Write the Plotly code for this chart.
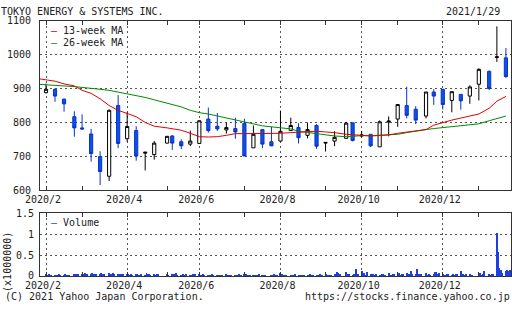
import pandas as pd
import plotly.graph_objects as go

# ---------------- data ----------------
weeks = ["2020-02-03", "2020-02-10", "2020-02-17", "2020-02-25", "2020-03-02", "2020-03-09",
         "2020-03-16", "2020-03-23", "2020-03-30", "2020-04-06", "2020-04-13", "2020-04-20",
         "2020-04-27", "2020-05-07", "2020-05-11", "2020-05-18", "2020-05-25", "2020-06-01",
         "2020-06-08", "2020-06-15", "2020-06-22", "2020-06-29", "2020-07-06", "2020-07-13",
         "2020-07-20", "2020-07-27", "2020-08-03", "2020-08-11", "2020-08-17", "2020-08-24",
         "2020-08-31", "2020-09-07", "2020-09-14", "2020-09-23", "2020-09-28", "2020-10-05",
         "2020-10-12", "2020-10-19", "2020-10-26", "2020-11-02", "2020-11-09", "2020-11-16",
         "2020-11-24", "2020-11-30", "2020-12-07", "2020-12-14", "2020-12-21", "2020-12-28",
         "2021-01-04", "2021-01-12", "2021-01-18", "2021-01-25"]
opens = [888, 898, 869, 817, 784, 766, 699, 641, 850, 752, 776, 709, 705, 739, 760, 743, 736, 738,
         810, 789, 778, 782, 797, 725, 779, 743, 745, 776, 785, 762, 791, 739, 745, 753, 799, 760,
         765, 728, 801, 810, 850, 839, 819, 890, 898, 865, 883, 878, 913, 951, 992, 991]
highs = [915, 900, 870, 833, 824, 781, 715, 838, 881, 830, 789, 713, 745, 760, 763, 750, 776, 806,
         844, 828, 800, 814, 811, 791, 779, 788, 835, 814, 798, 800, 795, 742, 774, 802, 799, 775,
         765, 806, 818, 853, 906, 848, 890, 898, 898, 891, 883, 910, 960, 954, 1084, 1020]
lows = [886, 861, 832, 758, 778, 684, 615, 627, 724, 743, 687, 658, 690, 738, 719, 721, 730, 737,
        770, 775, 767, 752, 701, 725, 724, 730, 744, 776, 738, 753, 722, 714, 730, 753, 744, 757,
        727, 728, 759, 787, 812, 795, 812, 852, 838, 830, 838, 855, 865, 896, 979, 931]
closes = [898, 878, 855, 784, 781, 708, 655, 836, 738, 788, 701, 712, 739, 759, 739, 731, 745, 805,
          776, 781, 785, 772, 701, 765, 736, 731, 774, 791, 755, 779, 730, 741, 756, 798, 747, 763,
          731, 802, 804, 853, 821, 807, 890, 878, 853, 891, 864, 905, 957, 900, 994, 936]

ma_dates = ["2020-01-27"] + weeks
ma13 = [930, 927, 922, 914, 908, 895, 886, 870, 850, 836, 827, 817, 800, 789, 784, 781, 777, 768,
        758, 757, 758, 762, 767, 767, 767, 766, 767, 768, 770, 771, 774, 774, 772, 770, 765, 763,
        762, 760, 762, 763, 768, 772, 775, 779, 792, 800, 807, 813, 820, 825, 842, 863, 877]
ma26 = [913, 912, 910, 908, 906, 903, 901, 898, 895, 890, 886, 879, 874, 867, 858, 853, 846, 836,
        829, 825, 819, 813, 806, 800, 796, 790, 787, 784, 781, 774, 770, 768, 763, 760, 758, 760,
        761, 761, 762, 763, 765, 770, 775, 779, 782, 785, 787, 790, 793, 796, 805, 812, 819]

# daily volume (thousands of shares), one list per week
vol_daily = [
    [25, 15, 30, 10, 15], [20, 10, 15, 25, 10], [15, 30, 20, 15, 10], [35, 25, 40, 30],
    [45, 25, 60, 20, 30], [50, 65, 30, 40, 55], [40, 75, 35, 50], [60, 45, 35, 70, 40],
    [55, 40, 30, 45, 35], [30, 25, 20, 35, 15], [25, 40, 20, 15, 30], [20, 60, 35, 25, 15],
    [30, 20, 55, 25], [40, 20], [35, 45, 25, 60, 20], [15, 25, 20, 10, 30],
    [20, 15, 35, 20, 25], [30, 20, 15, 25, 10], [15, 20, 10, 25, 15], [10, 20, 15, 10, 20],
    [25, 15, 10, 20, 15], [20, 10, 15, 35, 10], [45, 25, 15, 20, 10], [15, 20, 10, 15, 25],
    [20, 15, 10], [15, 20, 25, 10, 15], [75, 30, 20, 15, 10], [20, 15, 10, 25],
    [15, 10, 20, 15, 10], [20, 15, 25, 10, 15], [15, 20, 10, 30, 20], [25, 15, 10, 20, 15],
    [30, 20, 105, 75, 40], [90, 35, 25], [20, 30, 45, 170, 25], [115, 30, 75, 20, 90],
    [35, 20, 25, 15, 30], [20, 15, 25, 30, 20], [60, 20, 15, 25, 30], [35, 70, 20, 45, 25],
    [80, 30, 25, 120, 40], [30, 170, 45, 25, 35], [60, 20, 30, 15], [25, 90, 95, 40, 60],
    [30, 20, 15, 25, 40], [20, 35, 15, 25, 30], [110, 40, 30, 20, 25], [30, 20, 15],
    [45, 65, 20, 25, 110], [35, 20, 30, 25], [1020, 580, 190, 140, 60], [120, 150, 110, 150, 130],
]

major_ticks = ["2020-02-03", "2020-04-06", "2020-06-01", "2020-08-03", "2020-10-05", "2020-12-07"]
major_text = ["2020/2", "2020/4", "2020/6", "2020/8", "2020/10", "2020/12"]
minor_ticks = ["2020-03-02", "2020-05-07", "2020-07-06", "2020-09-07", "2020-11-02", "2021-01-04"]
price_ticks = [600, 700, 800, 900, 1000, 1100]
vol_ticks = [0, 0.5, 1, 1.5]
vol_text = ["0", "0.5", "1", "1.5"]

# expand daily volume to dates
vol_x, vol_y = [], []
for start, vals in zip(weeks, vol_daily):
    days = pd.bdate_range(start, periods=len(vals))
    vol_x += list(days)
    vol_y += [v / 1000 for v in vals]

# ---------------- figure ----------------
W, H = 512, 310
L, R = 40, 1
PW = W - L - R
def px_x(p):
    return (p - L) / PW
def px_y(p):
    return 1 - p / H

FONT = "DejaVu Sans Mono"
TXT = "#222222"
GRID = "#555555"
BORDER = "#333333"

fig = go.Figure()
fig.add_trace(go.Scatter(x=ma_dates, y=ma26, mode="lines", line=dict(color="#008a00", width=1),
                         xaxis="x", yaxis="y", hoverinfo="skip"))
fig.add_trace(go.Scatter(x=ma_dates, y=ma13, mode="lines", line=dict(color="#e00000", width=1),
                         xaxis="x", yaxis="y", hoverinfo="skip"))
fig.add_trace(go.Candlestick(
    x=weeks, open=opens, high=highs, low=lows, close=closes,
    increasing=dict(line=dict(color="#000000", width=1), fillcolor="#ffffff"),
    decreasing=dict(line=dict(color="#0a2fd0", width=1), fillcolor="#0a55e0"),
    whiskerwidth=0, xaxis="x", yaxis="y"))
fig.add_trace(go.Bar(x=vol_x, y=vol_y, marker=dict(color="#1a3fe8", line=dict(width=0)),
                     width=0.75 * 86400000, xaxis="x2", yaxis="y2"))

axis_font = dict(family=FONT, size=10, color=TXT)
xcommon = dict(
    type="date", range=["2020-01-29 08:00", "2021-01-28 23:00"],
    tickvals=major_ticks, ticktext=major_text, ticks="inside", ticklen=4, tickcolor=BORDER,
    minor=dict(tickvals=minor_ticks, ticks="inside", ticklen=4, tickcolor=BORDER, showgrid=False),
    showgrid=True, gridcolor=GRID, griddash="2px,3px", gridwidth=1,
    showline=True, linecolor=BORDER, linewidth=1, mirror="ticks",
    tickfont=axis_font, zeroline=False, fixedrange=True, ticklabelshift=-3,
)
fig.update_layout(
    width=W, height=H, margin=dict(l=L, r=R, t=0, b=0),
    paper_bgcolor="white", plot_bgcolor="white", showlegend=False,
    boxgap=0.12, bargap=0,
    xaxis=dict(domain=[0, 1], anchor="y", rangeslider=dict(visible=False), **xcommon),
    yaxis=dict(domain=[px_y(191.3), px_y(16.5)], range=[600, 1100], tickvals=price_ticks,
               showgrid=True, gridcolor=GRID, griddash="2px,3px", gridwidth=1,
               showline=True, linecolor=BORDER, linewidth=1, mirror=True,
               ticks="", tickfont=axis_font, zeroline=False, ticklabelstandoff=6),
    xaxis2=dict(domain=[0, 1], anchor="y2", matches="x", **xcommon),
    yaxis2=dict(domain=[px_y(280), px_y(215)], range=[0, 1.5], tickvals=vol_ticks, ticktext=vol_text,
                showgrid=True, gridcolor=GRID, griddash="2px,3px", gridwidth=1,
                showline=True, linecolor=BORDER, linewidth=1, mirror=True,
                ticks="", tickfont=axis_font, zeroline=False, ticklabelstandoff=3),
)

def note(text, x, y, xanchor="left", angle=0):
    fig.add_annotation(text=text, x=px_x(x), y=px_y(y), xref="paper", yref="paper",
                       xanchor=xanchor, yanchor="middle", showarrow=False, textangle=angle,
                       font=dict(family=FONT, size=10, color=TXT), borderpad=0)

note("TOKYO ENERGY &amp; SYSTEMS INC.", 0, 6.5)
note("2021/1/29", 501, 6.5, xanchor="right")
note('<span style="color:#e00000">–</span> 13-week MA', 50, 26.5)
note('<span style="color:#008a00">–</span> 26-week MA', 50, 39)
note('<span style="color:#1a3fe8">–</span> Volume', 50, 225)
note("(x1000000)", 1, 266, angle=-90)
note("(C) 2021 Yahoo Japan Corporation.", 4, 301)
note("https://stocks.finance.yahoo.co.jp", 511, 301, xanchor="right")

fig.write_html("out.html")
